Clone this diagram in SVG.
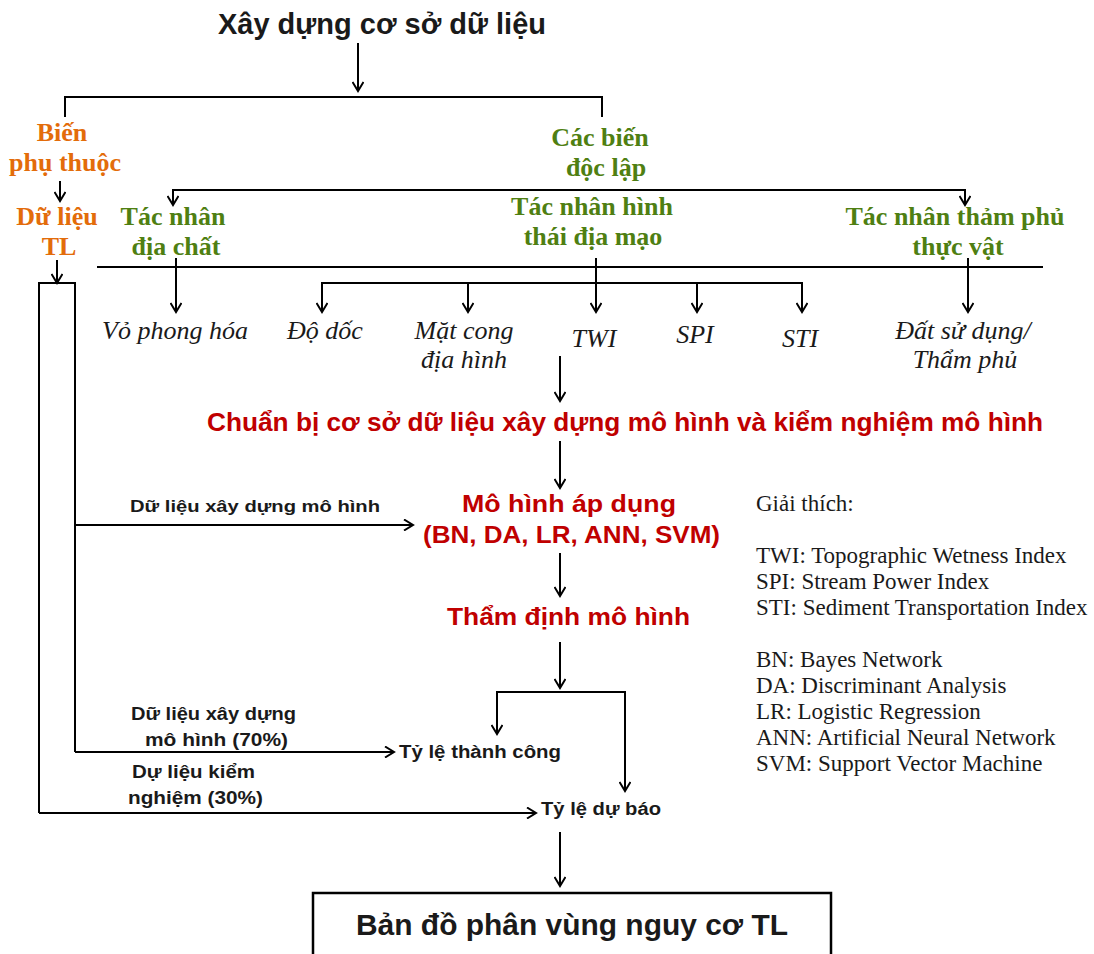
<svg xmlns="http://www.w3.org/2000/svg" width="1094" height="954" viewBox="0 0 1094 954">
<style>
.ln{stroke:#000;stroke-width:2;fill:none}
.ar{stroke:#000;stroke-width:2;fill:none;marker-end:url(#ah)}
.sb{font-family:"Liberation Sans",Arial,sans-serif;font-weight:bold;fill:#1a1a1a}
.red{font-family:"Liberation Sans",Arial,sans-serif;font-weight:bold;fill:#C00000}
.or{font-family:"Liberation Serif","Times New Roman",serif;font-weight:bold;fill:#E36C0A;font-size:26px;text-anchor:middle}
.gr{font-family:"Liberation Serif","Times New Roman",serif;font-weight:bold;fill:#4F7F12;font-size:26px;text-anchor:middle}
.it{font-family:"Liberation Serif","Times New Roman",serif;font-style:italic;fill:#1a1a1a;font-size:26px;text-anchor:middle}
.lg{font-family:"Liberation Serif","Times New Roman",serif;fill:#1a1a1a;font-size:23px}
</style>
<defs>
<marker id="ah" viewBox="0 0 12 12" refX="10" refY="6" markerWidth="12" markerHeight="12" markerUnits="userSpaceOnUse" orient="auto">
<path d="M1,0.5 L10,6 L1,11.5" stroke="#000" stroke-width="2" fill="none"/>
</marker>
</defs>

<g id="connectors">
<line class="ar" x1="358" y1="43" x2="358" y2="91"/>
<polyline class="ln" points="65,117 65,97 602,97 602,117"/>
<line class="ar" x1="60" y1="181" x2="60" y2="201"/>
<polyline class="ar" points="400,190 173,190 173,205"/>
<polyline class="ar" points="400,190 965,190 965,205"/>
<line class="ln" x1="97" y1="267" x2="1043" y2="267"/>
<line class="ar" x1="176" y1="258" x2="176" y2="312"/>
<polyline class="ar" points="460,283 322,283 322,312"/>
<polyline class="ar" points="460,283 802,283 802,312"/>
<line class="ar" x1="468" y1="283" x2="468" y2="312"/>
<line class="ar" x1="697" y1="283" x2="697" y2="312"/>
<line class="ar" x1="596" y1="258" x2="596" y2="312"/>
<line class="ar" x1="968" y1="258" x2="968" y2="312"/>
<line class="ar" x1="57" y1="260" x2="57" y2="283"/>
<polyline class="ln" points="39,813 39,283 75,283 75,752"/>
<line class="ar" x1="75" y1="525" x2="413" y2="525"/>
<line class="ar" x1="75" y1="752" x2="394" y2="752"/>
<line class="ar" x1="39" y1="813" x2="536" y2="813"/>
<line class="ar" x1="560" y1="356" x2="560" y2="401"/>
<line class="ar" x1="560" y1="441" x2="560" y2="488"/>
<line class="ar" x1="560" y1="553" x2="560" y2="596"/>
<line class="ar" x1="560" y1="642" x2="560" y2="688"/>
<polyline class="ar" points="560,692 497,692 497,734"/>
<polyline class="ar" points="560,692 625,692 625,791"/>
<line class="ar" x1="560" y1="832" x2="560" y2="886"/>
</g>

<g id="title"><text class="sb" x="218" y="34" font-size="30" textLength="328" lengthAdjust="spacingAndGlyphs">Xây dựng cơ sở dữ liệu</text></g>

<g id="bien-phu-thuoc"><text class="or" x="62" y="141">Biến</text><text class="or" x="65" y="171">phụ thuộc</text></g>
<g id="du-lieu-tl"><text class="or" x="57" y="225">Dữ liệu</text><text class="or" x="59" y="255">TL</text></g>
<g id="cac-bien-doc-lap"><text class="gr" x="600" y="146">Các biến</text><text class="gr" x="606" y="176">độc lập</text></g>
<g id="dia-chat"><text class="gr" x="173" y="225">Tác nhân</text><text class="gr" x="176" y="255">địa chất</text></g>
<g id="dia-mao"><text class="gr" x="592" y="215">Tác nhân hình</text><text class="gr" x="593" y="245">thái địa mạo</text></g>
<g id="tham-phu"><text class="gr" x="955" y="225">Tác nhân thảm phủ</text><text class="gr" x="958" y="255">thực vật</text></g>

<g id="vo-phong-hoa"><text class="it" x="175" y="339">Vỏ phong hóa</text></g>
<g id="do-doc"><text class="it" x="325" y="339">Độ dốc</text></g>
<g id="mat-cong"><text class="it" x="464" y="339">Mặt cong</text><text class="it" x="464" y="368">địa hình</text></g>
<g id="twi"><text class="it" x="594" y="347">TWI</text></g>
<g id="spi"><text class="it" x="695" y="343">SPI</text></g>
<g id="sti"><text class="it" x="800" y="347">STI</text></g>
<g id="dat-su-dung"><text class="it" x="963" y="339">Đất sử dụng/</text><text class="it" x="965" y="368">Thẩm phủ</text></g>

<g id="chuan-bi"><text class="red" x="207" y="431" font-size="25" textLength="836" lengthAdjust="spacingAndGlyphs">Chuẩn bị cơ sở dữ liệu xây dựng mô hình và kiểm nghiệm mô hình</text></g>
<g id="mo-hinh"><text class="red" x="462" y="512" font-size="24" textLength="214" lengthAdjust="spacingAndGlyphs">Mô hình áp dụng</text><text class="red" x="423" y="543" font-size="24" textLength="297" lengthAdjust="spacingAndGlyphs">(BN, DA, LR, ANN, SVM)</text></g>
<g id="tham-dinh"><text class="red" x="447" y="625" font-size="24" textLength="243" lengthAdjust="spacingAndGlyphs">Thẩm định mô hình</text></g>

<g id="lbl-xay-dung"><text class="sb" x="130" y="512" font-size="17" textLength="250" lengthAdjust="spacingAndGlyphs">Dữ liệu xây dựng mô hình</text></g>
<g id="lbl-70"><text class="sb" x="131" y="720" font-size="18" textLength="165" lengthAdjust="spacingAndGlyphs">Dữ liệu xây dựng</text><text class="sb" x="145" y="746" font-size="18" textLength="143" lengthAdjust="spacingAndGlyphs">mô hình (70%)</text></g>
<g id="lbl-30"><text class="sb" x="132" y="778" font-size="18" textLength="123" lengthAdjust="spacingAndGlyphs">Dự liệu kiểm</text><text class="sb" x="128" y="804" font-size="18" textLength="135" lengthAdjust="spacingAndGlyphs">nghiệm (30%)</text></g>
<g id="thanh-cong"><text class="sb" x="399" y="758" font-size="18" textLength="162" lengthAdjust="spacingAndGlyphs">Tỷ lệ thành công</text></g>
<g id="du-bao"><text class="sb" x="541" y="815" font-size="18" textLength="120" lengthAdjust="spacingAndGlyphs">Tỷ lệ dự báo</text></g>

<g id="ban-do"><rect x="313" y="893" width="518" height="70" fill="#fff" stroke="#000" stroke-width="2.5"/><text class="sb" x="356" y="935" font-size="29" textLength="432" lengthAdjust="spacingAndGlyphs">Bản đồ phân vùng nguy cơ TL</text></g>

<g id="legend">
<text class="lg" x="756" y="511">Giải thích:</text>
<text class="lg" x="756" y="563">TWI: Topographic Wetness Index</text>
<text class="lg" x="756" y="589">SPI: Stream Power Index</text>
<text class="lg" x="756" y="615">STI: Sediment Transportation Index</text>
<text class="lg" x="756" y="667">BN: Bayes Network</text>
<text class="lg" x="756" y="693">DA: Discriminant Analysis</text>
<text class="lg" x="756" y="719">LR: Logistic Regression</text>
<text class="lg" x="756" y="745">ANN: Artificial Neural Network</text>
<text class="lg" x="756" y="771">SVM: Support Vector Machine</text>
</g>
</svg>
